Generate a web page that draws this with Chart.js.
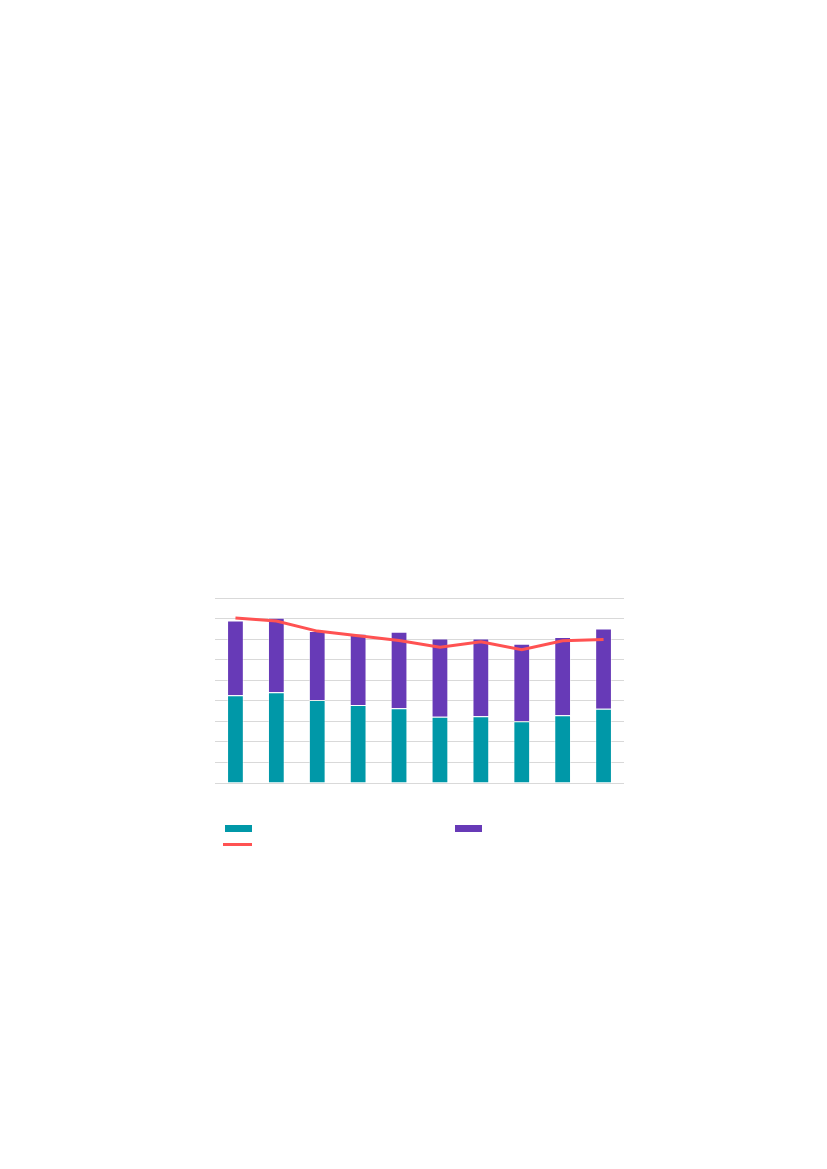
<!DOCTYPE html>
<html>
<head>
<meta charset="utf-8">
<script src="https://cdn.jsdelivr.net/npm/chart.js@4"></script>
<style>
    html, body { margin: 0; padding: 0; background: #fff; }
    body { width: 827px; height: 1169px; position: relative; overflow: hidden; font-family: "Open Sans", sans-serif; }
    #chartBox { position: absolute; left: 210px; top: 593px; width: 419px; height: 195px; }
    .lg { position: absolute; }
</style>
</head>
<body>
<div id="chartBox"><canvas id="mixChart"></canvas></div>
<div id="legend"></div>
<script>
// values in grid units (the picture shows no labels)
const categories = ['1', '2', '3', '4', '5', '6', '7', '8', '9', '10'];
const lowerPart = [4.27, 4.42, 4.04, 3.79, 3.64, 3.22, 3.25, 3.01, 3.30, 3.61];
const upperPart = [3.64, 3.62, 3.35, 3.47, 3.72, 3.81, 3.78, 3.76, 3.80, 3.91];
const lineValues = [8.03, 7.88, 7.39, 7.16, 6.93, 6.61, 6.87, 6.48, 6.92, 6.98];

const teal = '#0098A8';
const purple = '#673AB7';
const red = '#FF5252';

const chartData = {
    labels: categories,
    datasets: [
        {
            type: 'line',
            label: '',
            data: lineValues,
            borderColor: red,
            backgroundColor: red,
            borderWidth: 3,
            pointRadius: 0,
            tension: 0,
            stack: 'line',
            order: 0
        },
        {
            type: 'bar',
            label: '',
            data: lowerPart,
            backgroundColor: teal,
            borderColor: 'rgba(255,255,255,0.45)',
            borderWidth: 1,
            stack: 'bars',
            order: 1
        },
        {
            type: 'bar',
            label: '',
            data: upperPart,
            backgroundColor: purple,
            borderColor: 'rgba(255,255,255,0.45)',
            borderWidth: 1,
            stack: 'bars',
            order: 1
        }
    ]
};

const config = {
    type: 'bar',
    data: chartData,
    options: {
        responsive: true,
        maintainAspectRatio: false,
        animation: false,
        layout: { padding: 5 },
        datasets: {
            bar: { barPercentage: 0.82, categoryPercentage: 0.5 }
        },
        scales: {
            x: {
                stacked: true,
                display: false
            },
            y: {
                stacked: true,
                min: 0,
                max: 9,
                ticks: { display: false, stepSize: 1 },
                grid: { color: '#d9d9d9', lineWidth: 1, drawTicks: false },
                border: { display: false }
            }
        },
        plugins: {
            legend: { display: false },
            tooltip: { enabled: false }
        }
    }
};

var ctx = document.getElementById('mixChart').getContext('2d');
var mixChart = new Chart(ctx, config);

// legend keys (no text in the picture)
var legend = document.getElementById('legend');
var keys = [
    { color: teal, left: 225, top: 825, w: 27, h: 7 },
    { color: purple, left: 455, top: 825, w: 27, h: 7 },
    { color: red, left: 223, top: 843, w: 29, h: 3 }
];
keys.forEach(function(k) {
    var d = document.createElement('div');
    d.className = 'lg';
    d.style.left = k.left + 'px';
    d.style.top = k.top + 'px';
    d.style.width = k.w + 'px';
    d.style.height = k.h + 'px';
    d.style.background = k.color;
    legend.appendChild(d);
});
</script>
</body>
</html>
